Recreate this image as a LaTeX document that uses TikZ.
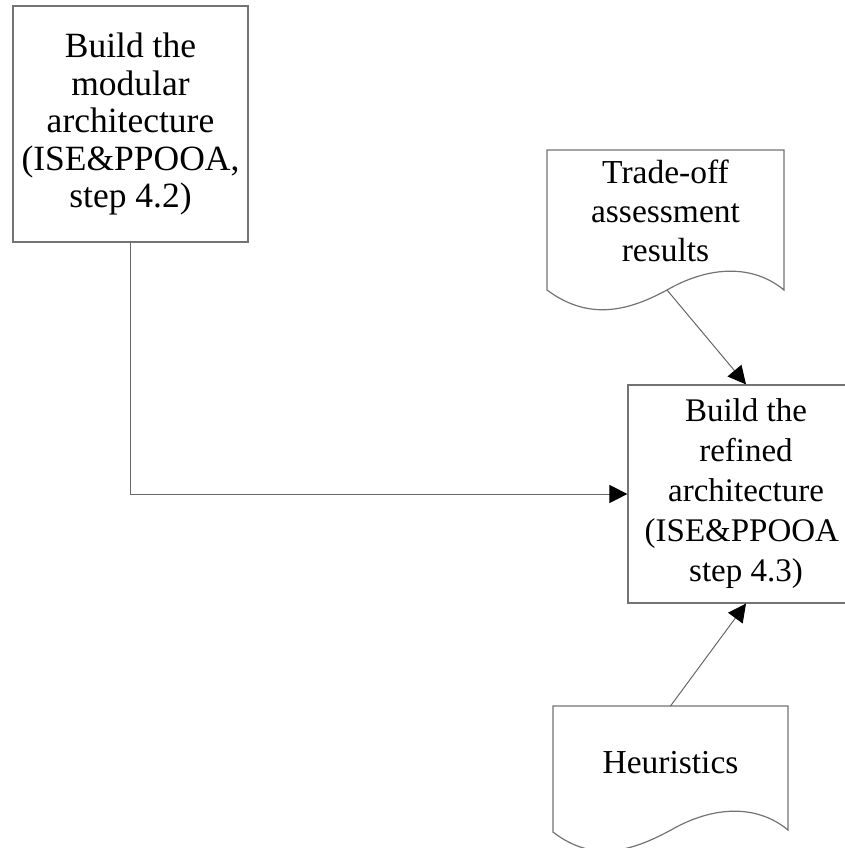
\documentclass[tikz,border=0pt]{standalone}
\usepackage{fontspec}
\setmainfont{Liberation Serif}
\usetikzlibrary{arrows.meta}
\tikzset{
  boxline/.style={draw=black!55, line width=1.2pt},
  procbox/.style={boxline, rectangle, align=center, inner sep=0pt,
    font=\fontsize{33}{39}\selectfont},
  doctext/.style={align=center, inner sep=0pt, font=\fontsize{33.5}{39}\selectfont},
  conn/.style={draw=black!60, line width=1pt,
    -{Triangle[length=18pt,width=18pt,color=black,fill=black]}},
}
\begin{document}
\begin{tikzpicture}[x=1pt,y=-1pt]
\useasboundingbox (0,0) rectangle (845,848);
\clip (0,0) rectangle (845,848);
% process boxes
\node[procbox, minimum width=235pt, minimum height=236pt,
  font=\fontsize{35.5}{37.5}\selectfont] (modular) at (130.5,124)
  {Build the\\modular\\architecture\\(ISE\&PPOOA,\\step 4.2)};
\node[procbox, minimum width=236pt, minimum height=218pt,
  font=\fontsize{33}{40}\selectfont] (refined) at (746,494)
  {Build the\\refined\\architecture\\(ISE\&PPOOA\phantom{,}\\step 4.3)};
% document: trade-off
\draw[boxline, fill=white] (547,290) -- (547,150) -- (784,150) -- (784,290)
  .. controls (750,262) and (705,268) .. (667,290)
  .. controls (630,310) and (590,322) .. (547,290) -- cycle;
\node[doctext] (trade) at (665.5,211) {Trade-off\\assessment\\results};
\coordinate (tradeout) at (667,290);
% document: heuristics
\draw[boxline, fill=white] (553,832) -- (553,706) -- (788,706) -- (788,830)
  .. controls (754,802) and (709,808) .. (671,830)
  .. controls (634,850) and (594,864) .. (553,832) -- cycle;
\node[doctext] (heur) at (670.5,763) {Heuristics};
\coordinate (heurtop) at (670.5,706);
% connectors
\draw[conn] (modular.south) |- (refined.west);
\draw[conn] (tradeout) -- (refined.north);
\draw[conn] (heurtop) -- (refined.south);
\end{tikzpicture}
\end{document}
